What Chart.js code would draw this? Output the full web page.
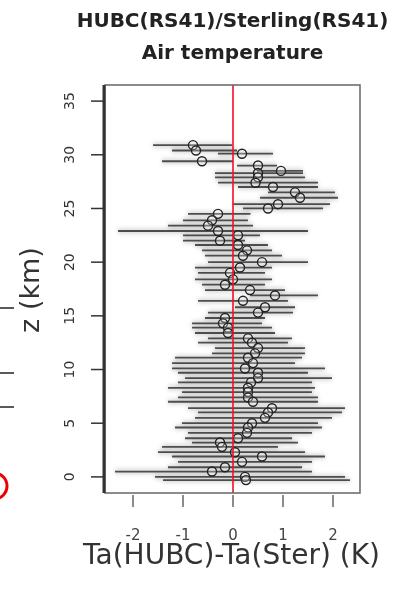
<!DOCTYPE html>
<html>
<head>
<meta charset="utf-8">
<script src="https://cdn.jsdelivr.net/npm/chart.js@4"></script>
<style>
  html, body { margin: 0; padding: 0; background: #fff; }
  canvas { display: block; }
</style>
</head>
<body>
<canvas id="profileChart" width="393" height="589"></canvas>
<script>
// height levels (km) and HUBC - Sterling temperature differences (K)
const heightKm = [30.9, 30.4, 30.1, 29.4, 29.0, 28.5, 28.3, 27.9, 27.4, 27.0, 26.5, 26.0, 25.4, 25.0,
  24.5, 23.9, 23.4, 22.9, 22.5, 22.0, 21.6, 21.1, 20.6, 20.0, 19.5, 19.0, 18.4, 17.9, 17.4, 16.9,
  16.4, 15.8, 15.3, 14.8, 14.3, 13.9, 13.4, 12.9, 12.5, 12.0, 11.5, 11.1, 10.6, 10.1, 9.7, 9.2,
  8.8, 8.3, 7.9, 7.4, 7.0, 6.4, 6.0, 5.5, 5.0, 4.6, 4.1, 3.6, 3.2, 2.8, 2.3, 1.9, 1.4, 0.9, 0.5, 0.0, -0.3];
const meanDiff = [-0.80, -0.74, 0.18, -0.62, 0.50, 0.96, 0.50, 0.50, 0.45, 0.80, 1.24, 1.34, 0.90, 0.70,
  -0.30, -0.42, -0.50, -0.30, 0.10, -0.26, 0.10, 0.28, 0.20, 0.58, 0.14, -0.06, 0.00, -0.16, 0.34, 0.84,
  0.20, 0.64, 0.50, -0.16, -0.20, -0.10, -0.10, 0.30, 0.38, 0.50, 0.44, 0.30, 0.40, 0.24, 0.50, 0.50,
  0.36, 0.30, 0.30, 0.30, 0.40, 0.78, 0.70, 0.64, 0.38, 0.30, 0.28, 0.10, -0.26, -0.22, 0.04, 0.58, 0.18, -0.16, -0.42, 0.24, 0.26];
const lowDiff = [-1.60, -1.22, -0.30, -1.42, 0.08, 0.48, -0.36, -0.36, -0.30, 0.10, 0.70, 0.54, 0.00, 0.20,
  -0.90, -1.00, -1.30, -2.30, -1.00, -1.00, -0.76, -0.62, -0.56, -0.50, -0.76, -0.70, -0.76, -0.62, -0.56, 0.34,
  -0.70, 0.04, -0.50, -0.56, -0.82, -0.82, -0.76, -0.50, -0.70, -0.36, -0.42, -1.16, -1.22, -1.22, -1.10, -0.96,
  -1.10, -1.30, -1.02, -1.10, -1.30, -0.90, -0.70, -0.76, -1.02, -1.16, -0.90, -0.96, -0.82, -1.42, -1.50, -1.22, -1.10, -1.30, -2.36, -1.56, -1.40];
const highDiff = [-0.02, 0.08, 0.80, 0.00, 0.88, 1.40, 1.40, 1.44, 1.70, 1.70, 2.04, 2.10, 1.94, 1.80,
  0.35, 0.30, 0.40, 1.50, 0.54, 0.24, 0.70, 0.78, 0.98, 1.50, 0.78, 0.64, 0.78, 0.64, 1.04, 1.70,
  1.10, 1.24, 1.20, 0.64, 0.58, 0.78, 0.84, 1.18, 1.10, 1.44, 1.44, 1.38, 1.24, 1.84, 1.50, 1.98,
  1.58, 1.64, 1.58, 1.70, 1.70, 2.24, 2.18, 1.98, 1.70, 1.78, 1.58, 1.18, 1.30, 0.90, 1.44, 1.84, 1.58, 1.38, 1.58, 2.24, 2.34];
const xTickLabels = [-2, -1, 0, 1, 2];
const yTickLabels = [0, 5, 10, 15, 20, 25, 30, 35];

const FONT = '"DejaVu Sans", "Liberation Sans", sans-serif';

// horizontal error bars, one segment per level, broken by null points
const barPoints = [];
heightKm.forEach((z, i) => {
  barPoints.push({ x: lowDiff[i], y: z }, { x: highDiff[i], y: z }, { x: lowDiff[i], y: null });
});
const meanPoints = heightKm.map((z, i) => ({ x: meanDiff[i], y: z }));

// soft grey halo under the bars
const halo = {
  id: 'halo',
  beforeDatasetDraw(chart, args) {
    if (args.meta.label === 'range shadow') {
      chart.ctx.save();
      chart.ctx.filter = 'blur(2px)';
    }
  },
  afterDatasetDraw(chart, args) {
    if (args.meta.label === 'range shadow') chart.ctx.restore();
  }
};

// axes, box and labels drawn R-style
const frame = {
  id: 'frame',
  afterDraw(chart) {
    const ctx = chart.ctx;
    const { left, right, top, bottom } = chart.chartArea;
    const xs = chart.scales.x, ys = chart.scales.y;
    ctx.save();

    ctx.strokeStyle = '#666';
    ctx.lineWidth = 1.5;
    ctx.strokeRect(left, top, right - left, bottom - top);
    ctx.strokeStyle = '#333';
    ctx.lineWidth = 3;
    ctx.beginPath();
    ctx.moveTo(left - 1, top);
    ctx.lineTo(left - 1, bottom);
    ctx.stroke();

    // y ticks
    ctx.lineWidth = 1.5;
    ctx.fillStyle = '#333';
    ctx.font = '14px ' + FONT;
    ctx.textAlign = 'center';
    ctx.textBaseline = 'middle';
    yTickLabels.forEach(v => {
      const py = ys.getPixelForValue(v);
      ctx.beginPath();
      ctx.moveTo(left - 14, py);
      ctx.lineTo(left, py);
      ctx.stroke();
      ctx.save();
      ctx.translate(70, py);
      ctx.rotate(-Math.PI / 2);
      ctx.fillText(String(v), 0, 0);
      ctx.restore();
    });

    // x ticks
    ctx.strokeStyle = '#666';
    ctx.fillStyle = '#444';
    ctx.font = '15px ' + FONT;
    xTickLabels.forEach(v => {
      const px = xs.getPixelForValue(v);
      ctx.beginPath();
      ctx.moveTo(px, bottom + 2);
      ctx.lineTo(px, bottom + 14);
      ctx.stroke();
      ctx.fillText(String(v), px, 536);
    });

    // titles
    const cx = (left + right) / 2;
    ctx.fillStyle = '#222';
    ctx.textBaseline = 'alphabetic';
    ctx.font = 'bold 20px ' + FONT;
    ctx.fillText('HUBC(RS41)/Sterling(RS41)', cx, 27);
    ctx.fillText('Air temperature', cx, 59);

    ctx.font = '28px ' + FONT;
    ctx.fillStyle = '#333';
    ctx.fillText('Ta(HUBC)-Ta(Ster) (K)', cx - 1, 564);

    ctx.save();
    ctx.translate(39, 290);
    ctx.rotate(-Math.PI / 2);
    ctx.font = '27px ' + FONT;
    ctx.fillText('z (km)', 0, 0);
    ctx.restore();

    // edge of the neighbouring panel
    ctx.strokeStyle = '#222';
    ctx.lineWidth = 1.5;
    [308, 373, 407].forEach(py => {
      ctx.beginPath();
      ctx.moveTo(0, py);
      ctx.lineTo(14, py);
      ctx.stroke();
    });
    ctx.strokeStyle = '#e00';
    ctx.lineWidth = 3;
    ctx.beginPath();
    ctx.arc(-6, 486, 13, -Math.PI / 2, Math.PI / 2);
    ctx.stroke();

    ctx.restore();
  }
};

new Chart(document.getElementById('profileChart'), {
  type: 'scatter',
  data: {
    datasets: [
      {
        label: 'zero',
        data: [{ x: 0, y: -1.5 }, { x: 0, y: 36.5 }],
        showLine: true,
        borderColor: '#f0102a',
        borderWidth: 1.6,
        pointRadius: 0,
        order: 0
      },
      {
        label: 'mean',
        data: meanPoints,
        pointStyle: 'circle',
        pointRadius: 4.5,
        pointBorderWidth: 1.4,
        pointBorderColor: '#222',
        pointBackgroundColor: 'rgba(255,255,255,0.25)',
        order: 1
      },
      {
        label: 'range',
        data: barPoints,
        showLine: true,
        spanGaps: false,
        borderColor: 'rgba(40,40,40,0.8)',
        borderWidth: 1.8,
        pointRadius: 0,
        order: 2
      },
      {
        label: 'range shadow',
        data: barPoints,
        showLine: true,
        spanGaps: false,
        borderColor: 'rgba(0,0,0,0.16)',
        borderWidth: 5,
        pointRadius: 0,
        order: 3
      }
    ]
  },
  options: {
    responsive: false,
    animation: false,
    devicePixelRatio: 1,
    layout: { padding: { left: 105, right: 33, top: 85, bottom: 96 } },
    plugins: { legend: { display: false }, tooltip: { enabled: false } },
    scales: {
      x: { type: 'linear', min: -2.56, max: 2.54, display: false },
      y: { type: 'linear', min: -1.5, max: 36.5, display: false }
    }
  },
  plugins: [halo, frame]
});
</script>
</body>
</html>
